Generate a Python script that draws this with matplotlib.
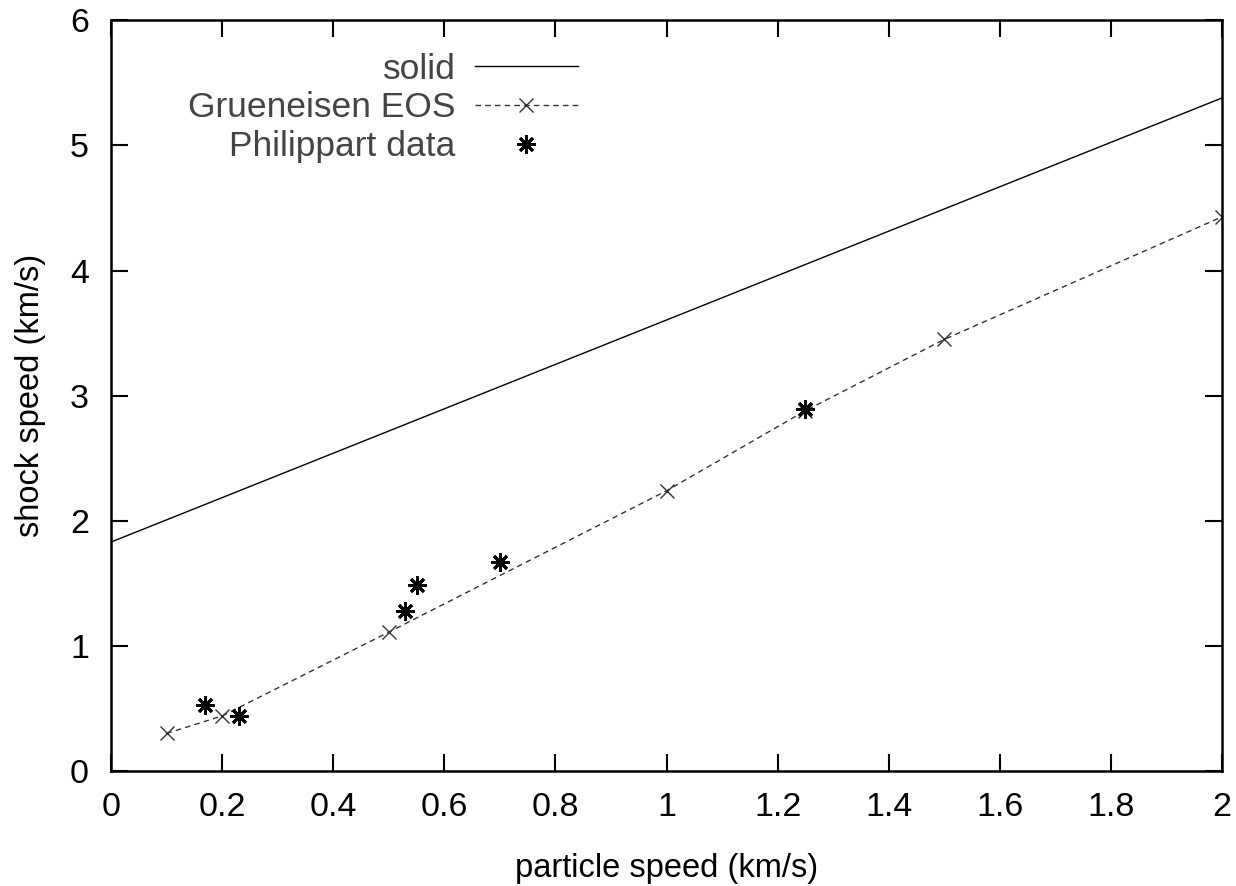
import numpy as np
import matplotlib
matplotlib.use("Agg")
import matplotlib.pyplot as plt

plt.rcParams['font.family'] = ['Liberation Sans', 'DejaVu Sans']

# solid (linear Hugoniot) end points
solid_up = [0.0, 2.0]
solid_us = [1.83, 5.38]

# Grueneisen EOS curve
gr_up = [0.1, 0.2, 0.5, 1.0, 1.25, 1.5, 2.0]
gr_us = [0.30, 0.44, 1.11, 2.24, 2.88, 3.45, 4.43]

# Philippart data
ph_up = [0.17, 0.23, 0.53, 0.55, 0.70, 1.25]
ph_us = [0.53, 0.44, 1.28, 1.49, 1.67, 2.89]

xtick_labels = ['0', '0.2', '0.4', '0.6', '0.8', '1', '1.2', '1.4', '1.6', '1.8', '2']

fig = plt.figure(figsize=(12.36, 8.86), dpi=100)
ax = fig.add_axes([0.0898, 0.1298, 0.8989, 0.8472])

ax.plot(solid_up, solid_us, color='black', lw=1.0, label='solid')
ax.plot(gr_up, gr_us, color='#333333', lw=1.0, ls=(0, (4, 3)),
        marker='x', ms=10, mew=1.0, label='Grueneisen EOS')
ax.plot(ph_up, ph_us, ls='none', color='black', marker=(8, 2, 0),
        ms=13, mew=2.0, label='Philippart data')

ax.set_xlim(0, 2)
ax.set_ylim(0, 6)
ax.set_xticks(np.arange(0, 2.01, 0.2))
ax.set_xticklabels(xtick_labels)
ax.set_yticks(range(0, 7))
ax.tick_params(direction='in', length=12, width=1.5, top=True, right=True,
               labelsize=24.5)
ax.tick_params(axis='x', pad=15)
ax.tick_params(axis='y', pad=16)
for s in ax.spines.values():
    s.set_linewidth(1.8)

ax.set_xlabel('particle speed (km/s)', fontsize=23.5, labelpad=22)
ax.set_ylabel('shock speed (km/s)', fontsize=23.5, labelpad=17)

leg = ax.legend(loc='upper right', bbox_to_anchor=(0.420, 0.957), frameon=False,
                markerfirst=False, fontsize=25.5, handlelength=2.9,
                labelspacing=0.16, handletextpad=0.54, borderpad=0,
                borderaxespad=0)
for t in leg.get_texts():
    t.set_color('#444444')
# right-align legend labels like gnuplot
leg._legend_box._children[-1]._children[0].align = 'right'

fig.savefig('out.png', dpi=100)
